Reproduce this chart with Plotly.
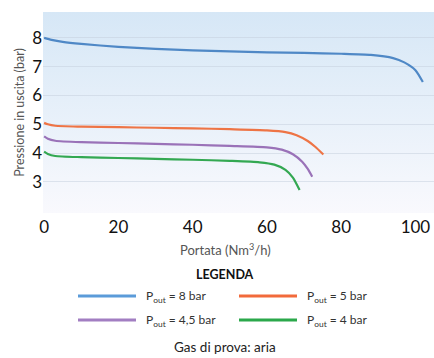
import base64
import plotly.graph_objects as go

# portata (Nm3/h) e pressione in uscita (bar)
x_8 = [0, 2, 5, 10, 20, 30, 40, 50, 60, 70, 80, 88, 94, 97, 100, 102]
y_8 = [8.0, 7.93, 7.86, 7.79, 7.69, 7.62, 7.57, 7.53, 7.5, 7.48, 7.45, 7.41, 7.3, 7.15, 6.88, 6.47]

x_5 = [0, 1, 3, 10, 20, 30, 40, 50, 60, 65, 68, 71, 73, 75.2]
y_5 = [5.05, 5.0, 4.95, 4.92, 4.9, 4.88, 4.86, 4.83, 4.79, 4.73, 4.62, 4.42, 4.22, 3.95]

x_45 = [0, 1, 3, 10, 20, 30, 40, 50, 60, 64, 67, 69.5, 71, 72.2]
y_45 = [4.58, 4.5, 4.43, 4.38, 4.35, 4.32, 4.29, 4.25, 4.2, 4.12, 3.96, 3.7, 3.45, 3.18]

x_4 = [0, 1, 3, 10, 20, 30, 40, 50, 58, 62, 65, 67, 68.8]
y_4 = [4.05, 3.97, 3.9, 3.86, 3.83, 3.8, 3.77, 3.73, 3.68, 3.6, 3.42, 3.15, 2.72]

labels = ["P<sub>out</sub> = 8 bar", "P<sub>out</sub> = 5 bar",
          "P<sub>out</sub> = 4,5 bar", "P<sub>out</sub> = 4 bar"]
line_colors = ["#4f88c6", "#ee7445", "#9a72b8", "#33a852"]
legend_colors = ["#5b9bd9", "#f26a3b", "#a27ec2", "#2ba84b"]

y_ticks = [3, 4, 5, 6, 7, 8]
x_ticks = [0, 20, 40, 60, 80, 100]

series = [(x_8, y_8), (x_5, y_5), (x_45, y_45), (x_4, y_4)]

fig = go.Figure()
for (xs, ys), lab, col in zip(series, labels, line_colors):
    fig.add_trace(go.Scatter(x=xs, y=ys, mode="lines", name=lab,
                             line=dict(color=col, width=2.2, shape="spline", smoothing=0.6),
                             showlegend=False))

# sfondo sfumato dell'area del grafico
svg = ('<svg xmlns="http://www.w3.org/2000/svg" width="10" height="100" preserveAspectRatio="none">'
       '<defs><linearGradient id="g" x1="0" y1="0" x2="0" y2="1">'
       '<stop offset="0" stop-color="#d6e7f6"/><stop offset="0.55" stop-color="#e9f1fa"/>'
       '<stop offset="1" stop-color="#f9f9fd"/></linearGradient></defs>'
       '<rect width="10" height="100" fill="url(#g)"/></svg>')
src = "data:image/svg+xml;base64," + base64.b64encode(svg.encode()).decode()
fig.add_layout_image(dict(source=src, xref="paper", yref="paper", x=0, y=1,
                          sizex=1, sizey=1, sizing="stretch", layer="below"))

# legenda disegnata a mano
px_w = 434 - 43
px_h = 358 - 12 - 145
def px(xp):
    return (xp - 43) / px_w
def py(yp):
    return (358 - 145 - yp) / px_h

pos = [(78, 296), (239, 296), (78, 320), (239, 320)]
for (sx, sy), lab, col in zip(pos, labels, legend_colors):
    fig.add_shape(type="line", xref="paper", yref="paper",
                  x0=px(sx), x1=px(sx + 58), y0=py(sy), y1=py(sy),
                  line=dict(color=col, width=3))
    fig.add_annotation(text=lab, xref="paper", yref="paper", x=px(sx + 66), y=py(sy),
                       xanchor="left", yanchor="middle", showarrow=False,
                       font=dict(size=12, color="#333333"))

fig.add_annotation(text="<b>LEGENDA</b>", xref="paper", yref="paper", x=px(225), y=py(274),
                   yanchor="middle", showarrow=False, font=dict(size=12.5, color="#111111"))
fig.add_annotation(text="Portata (Nm<sup>3</sup>/h)", xref="paper", yref="paper",
                   x=px(225), y=py(249), yanchor="middle", showarrow=False,
                   font=dict(size=13, color="#555555"))
fig.add_annotation(text="Gas di prova: aria", xref="paper", yref="paper",
                   x=px(225), y=py(347), yanchor="middle", showarrow=False,
                   font=dict(size=13.5, color="#222222"))

fig.update_layout(
    width=434, height=358,
    margin=dict(l=43, r=0, t=12, b=145),
    paper_bgcolor="white", plot_bgcolor="rgba(0,0,0,0)",
    font=dict(family="Lato, sans-serif"),
)
fig.update_xaxes(range=[-0.3, 105], tickvals=x_ticks, showgrid=False, zeroline=False,
                 showline=False, ticks="", automargin=False, ticklabelstandoff=2,
                 tickfont=dict(size=17, color="#111111"))
fig.update_yaxes(range=[1.92, 8.9], tickvals=y_ticks, showgrid=True,
                 gridcolor="rgba(195,205,220,0.5)", gridwidth=1, zeroline=False,
                 ticks="", automargin=False, tickfont=dict(size=17, color="#111111"),
                 title=dict(text="Pressione in uscita (bar)", standoff=4,
                            font=dict(size=12.5, color="#555555")))

fig.write_html("out.html", config={"displayModeBar": False},
               post_script="document.body.style.margin='0';")
